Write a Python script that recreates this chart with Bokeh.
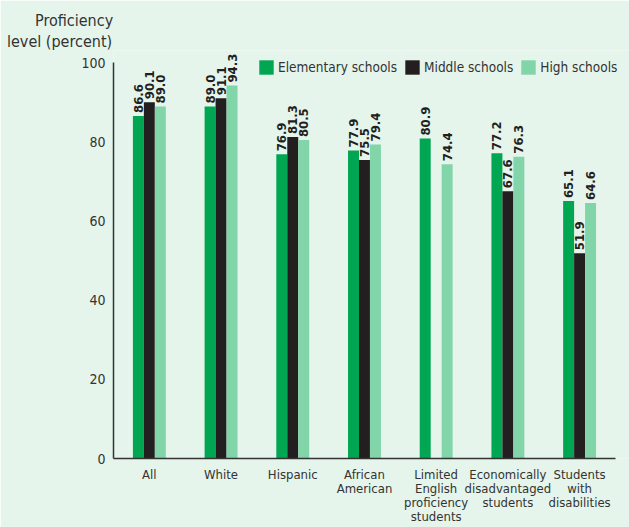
from bokeh.plotting import figure
from bokeh.models import (ColumnDataSource, Range1d, FixedTicker, Legend, LegendItem,
                          Title)
from bokeh.core.properties import value
from bokeh.embed import file_html
from bokeh.resources import INLINE

# Proficiency levels (percent) by student group and school level
groups = ["All", "White", "Hispanic", "African\nAmerican",
          "Limited\nEnglish\nproficiency\nstudents",
          "Economically\ndisadvantaged\nstudents",
          "Students\nwith\ndisabilities"]
elementary = [86.6, 89.0, 76.9, 77.9, 80.9, 77.2, 65.1]
middle = [90.1, 91.1, 81.3, 75.5, None, 67.6, 51.9]
high = [89.0, 94.3, 80.5, 79.4, 74.4, 76.3, 64.6]
y_ticks = [0, 20, 40, 60, 80, 100]

series_names = ["Elementary schools", "Middle schools", "High schools"]
series_values = [elementary, middle, high]
series_colors = ["#00A651", "#231F20", "#82D4A9"]

BG = "#E5F5EC"
TEXT = "#333333"
FONT = "DejaVu Sans Condensed"

# frame spans x 113..629 and y 50..458 px; the category axis runs -0.5..6.5
p = figure(width=629, height=527, output_backend="svg", toolbar_location=None,
           title=None,
           x_range=Range1d(-0.5, 6.696), y_range=Range1d(0, 103.16),
           min_border_left=113, min_border_right=0,
           min_border_top=50, min_border_bottom=69)
p.background_fill_color = BG
p.border_fill_color = BG
p.outline_line_color = None
p.grid.visible = False

bar_w = 0.153
offsets = [-bar_w, 0.0, bar_w]
legend_items = []
for name, vals, color, off in zip(series_names, series_values, series_colors, offsets):
    xs = [i + off for i, v in enumerate(vals) if v is not None]
    ys = [v for v in vals if v is not None]
    src = ColumnDataSource(dict(x=xs, top=ys, label=[f"{v:.1f}" for v in ys]))
    r = p.vbar(x="x", top="top", width=bar_w, bottom=0, source=src,
               fill_color=color, line_color=None)
    legend_items.append(LegendItem(label=name, renderers=[r]))
    p.text(x="x", y="top", text="label", source=src, angle=1.5708,
           text_align="left", text_baseline="middle", y_offset=-3,
           text_font=value(FONT), text_font_style="bold",
           text_font_size="13px", text_color="#231F20")

legend = Legend(items=legend_items, orientation="horizontal", location=(144, 382),
                padding=0, margin=0, spacing=6, label_standoff=3,
                glyph_width=18, glyph_height=18,
                border_line_alpha=0, background_fill_alpha=0,
                label_text_font=FONT, label_text_font_size="13.5px",
                label_text_color=TEXT)
p.add_layout(legend, "center")

xa = p.xaxis[0]
xa.ticker = FixedTicker(ticks=list(range(len(groups))))
xa.major_label_overrides = {i: g for i, g in enumerate(groups)}
xa.bounds = (-0.5, 6.5)
xa.major_tick_line_color = None
xa.minor_tick_line_color = None
xa.major_tick_out = 0
xa.major_tick_in = 0
xa.major_label_standoff = 8
xa.axis_line_color = TEXT
xa.axis_line_width = 1.5
xa.major_label_text_font = FONT
xa.major_label_text_font_size = "13px"
xa.major_label_text_line_height = 0.95
xa.major_label_text_color = TEXT

ya = p.yaxis[0]
ya.ticker = FixedTicker(ticks=y_ticks)
ya.bounds = (0, 100)
ya.major_tick_line_color = None
ya.minor_tick_line_color = None
ya.major_tick_out = 0
ya.major_tick_in = 0
ya.major_label_standoff = 8
ya.axis_line_color = TEXT
ya.axis_line_width = 1.5
ya.major_label_text_font = FONT
ya.major_label_text_font_size = "14px"
ya.major_label_text_baseline = "hanging"
ya.major_label_text_color = TEXT

# two-line heading at the top left, right-aligned against the value axis
for txt, off in [("level (percent)", -106.5), ("Proficiency", -78.5)]:
    p.add_layout(Title(text=txt, align="left", offset=off, standoff=0,
                       text_font=FONT, text_font_size="16px",
                       text_font_style="normal", text_color=TEXT), "above")

open("out.html", "w").write(file_html(p, INLINE))
